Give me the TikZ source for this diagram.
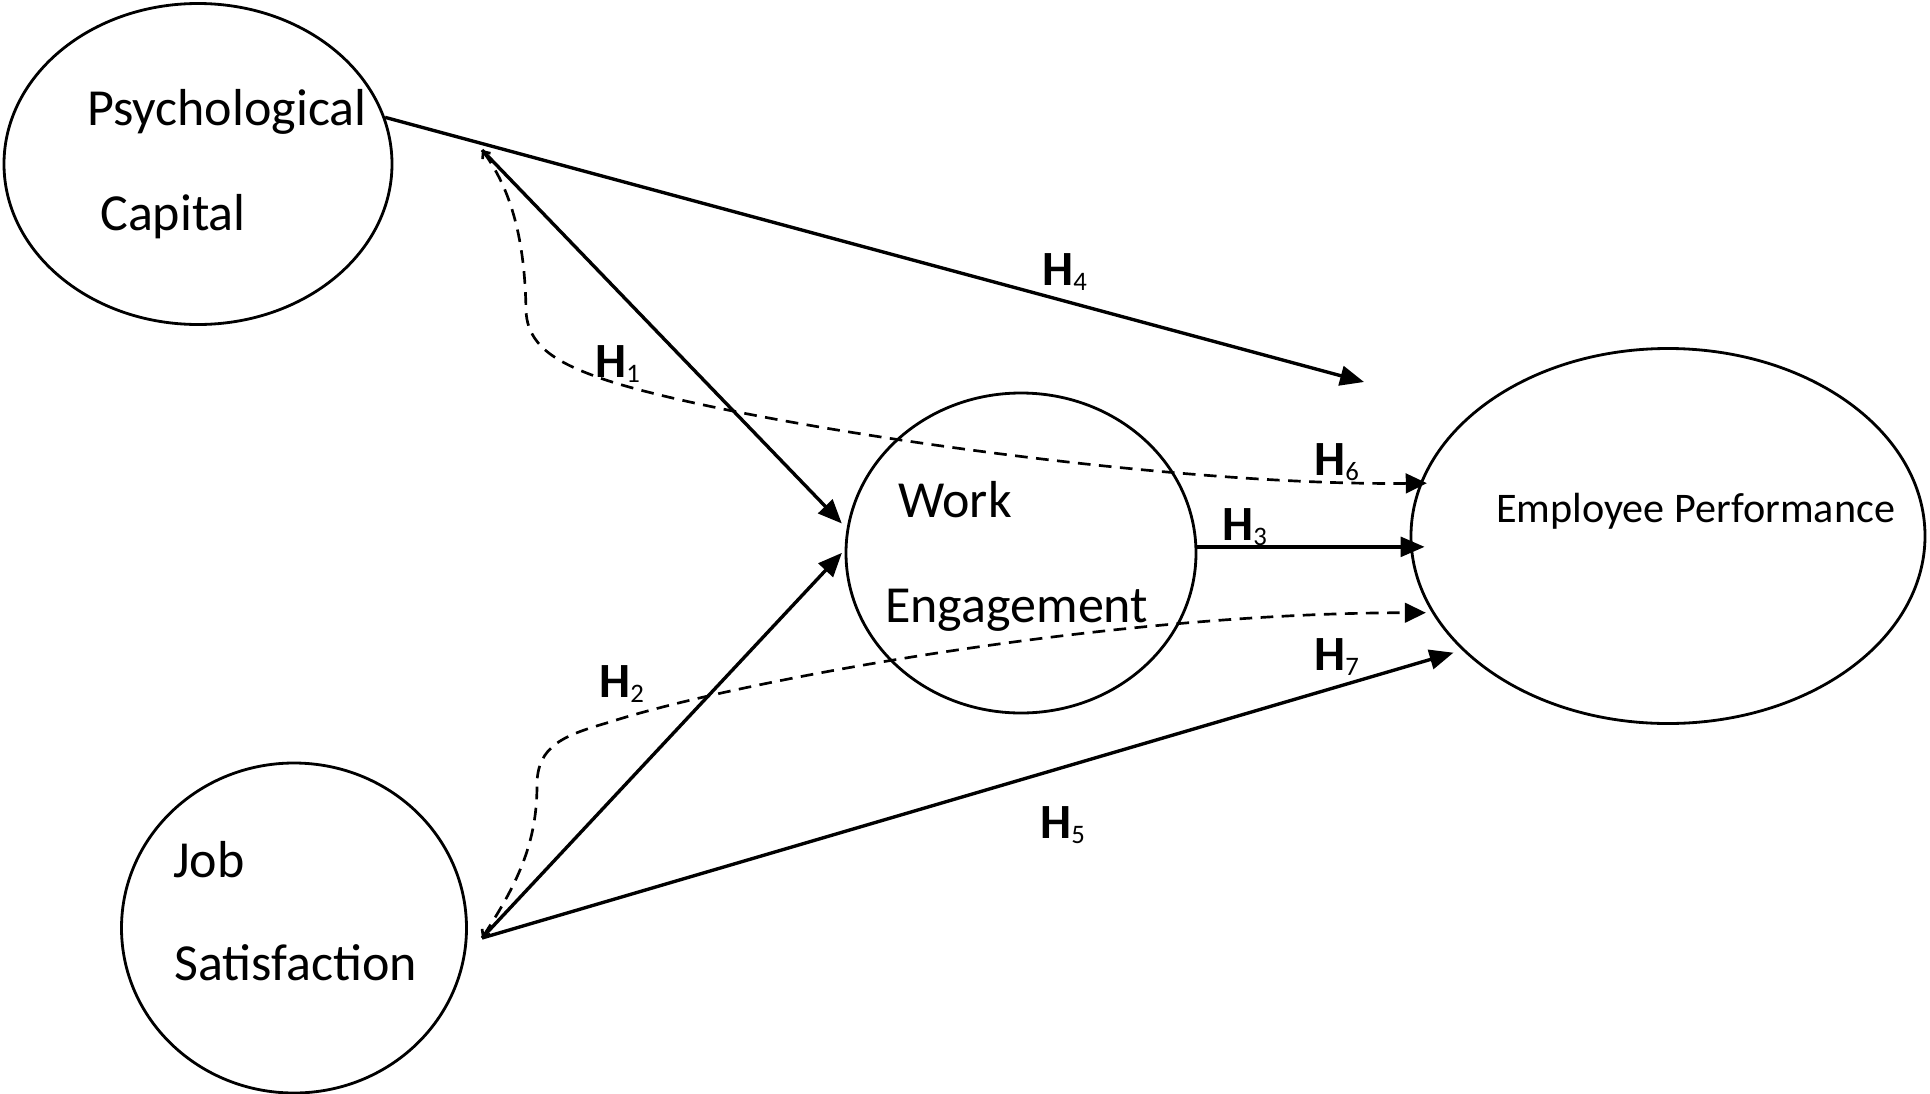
\documentclass[tikz,border=0pt]{standalone}
\usepackage{fontspec}
\setmainfont{Carlito}
\usetikzlibrary{arrows.meta,shapes.geometric}
\tikzset{
  construct/.style={ellipse, draw, line width=2pt, inner sep=0pt},
  lbl/.style={anchor=base west, inner sep=0pt, font=\fontsize{37}{41}\selectfont},
  eplbl/.style={anchor=base west, inner sep=0pt, font=\fontsize{30}{34}\selectfont},
  hyp/.style={anchor=base west, inner sep=0pt, font=\fontsize{35}{40}\selectfont\bfseries},
  link/.style={line width=2.4pt, -{Triangle[length=17pt,width=14pt]}},
  medlink/.style={line width=1.9pt, dash pattern=on 9pt off 6pt,
    {Straight Barb[length=4pt,width=7pt]}-{Triangle[length=15pt,width=14pt]}},
}
\newcommand{\hyplabel}[1]{H\raisebox{-1.25mm}{\fontsize{19}{20}\mdseries\selectfont #1}}
\begin{document}
\begin{tikzpicture}[x=0.25mm, y=-0.25mm]
\fill[white] (0,0) rectangle (1930,1094);
\useasboundingbox (0,0) rectangle (1930,1094);

% constructs
\node[construct, minimum width=97mm, minimum height=80.25mm] (pc) at (198,164) {};
\node[construct, minimum width=86.25mm, minimum height=82.5mm] (js) at (294,928) {};
\node[construct, minimum width=87.5mm, minimum height=80mm] (we) at (1021,553) {};
\node[construct, minimum width=128.5mm, minimum height=93.75mm] (ep) at (1668,536) {};

% texts
\node[lbl] (pct1) at (87,125) {Psychological};
\node[lbl] (pct2) at (100,230) {Capital};
\node[lbl] (jst1) at (173,877) {Job};
\node[lbl] (jst2) at (174,980) {Satisfaction};
\node[lbl] (wet1) at (898,517) {Work};
\node[lbl] (wet2) at (885,622) {Engagement};
\node[eplbl] (ept) at (1496,522) {Employee Performance};

% connector end points
\coordinate (pcout) at (482,150);
\coordinate (jsout) at (482,938);
\coordinate (h4end) at (1364,382);

% direct paths
\draw[link] (pc.14) -- (h4end);
\draw[link, shorten >=1.75mm] (pcout) -- (we.172);
\draw[link, shorten >=1mm] (jsout) -- (we.179);
\draw[link, shorten >=-3.75mm] (we.2) -- (we.2 -| ep.west);
\draw[link, shorten >=2.25mm] (jsout) -- (ep.209);

% mediated paths
\draw[medlink, shorten >=-1.75mm] (pcout) .. controls (515,195) and (525,250) .. (526,310)
  .. controls (527,345) and (555,362) .. (600,378)
  .. controls (720,420) and (1150,486) .. (ep.168);
\draw[medlink, shorten >=1.5mm] (jsout) .. controls (520,880) and (537,840) .. (537,785)
  .. controls (537,745) and (565,735) .. (610,722)
  .. controls (730,683) and (1100,613) .. (ep.198);

% hypothesis labels
\node[hyp] (h1) at (595,377) {\hyplabel{1}};
\node[hyp] (h2) at (599,697) {\hyplabel{2}};
\node[hyp] (h3) at (1222,540) {\hyplabel{3}};
\node[hyp] (h4) at (1042,285) {\hyplabel{4}};
\node[hyp] (h5) at (1040,838) {\hyplabel{5}};
\node[hyp] (h6) at (1314,475) {\hyplabel{6}};
\node[hyp] (h7) at (1314,670) {\hyplabel{7}};
\end{tikzpicture}
\end{document}
